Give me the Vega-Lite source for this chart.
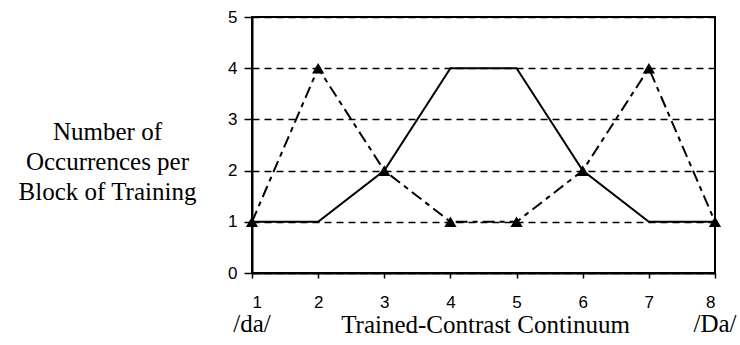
{
  "$schema": "https://vega.github.io/schema/vega-lite/v6.json",
  "width": 463,
  "height": 256,
  "autosize": {"type": "none"},
  "padding": {"left": 252, "top": 17, "right": 25, "bottom": 72},
  "background": "white",
  "config": {
    "view": {"stroke": "black", "strokeWidth": 2},
    "axis": {
      "domainColor": "black",
      "domainWidth": 2,
      "tickColor": "black",
      "tickWidth": 1.5,
      "labelFont": "Liberation Sans",
      "labelFontSize": 17,
      "labelColor": "black",
      "titleFont": "Liberation Serif",
      "titleFontSize": 25,
      "titleFontWeight": "normal",
      "titleColor": "black"
    }
  },
  "data": {
    "values": [
      {"step": 1, "count": 1, "series": "solid"},
      {"step": 2, "count": 1, "series": "solid"},
      {"step": 3, "count": 2, "series": "solid"},
      {"step": 4, "count": 4, "series": "solid"},
      {"step": 5, "count": 4, "series": "solid"},
      {"step": 6, "count": 2, "series": "solid"},
      {"step": 7, "count": 1, "series": "solid"},
      {"step": 8, "count": 1, "series": "solid"},
      {"step": 1, "count": 1, "series": "dashed"},
      {"step": 2, "count": 4, "series": "dashed"},
      {"step": 3, "count": 2, "series": "dashed"},
      {"step": 4, "count": 1, "series": "dashed"},
      {"step": 5, "count": 1, "series": "dashed"},
      {"step": 6, "count": 2, "series": "dashed"},
      {"step": 7, "count": 4, "series": "dashed"},
      {"step": 8, "count": 1, "series": "dashed"}
    ]
  },
  "layer": [
    {
      "transform": [{"filter": "datum.series === 'solid'"}],
      "mark": {"type": "line", "color": "black", "strokeWidth": 2},
      "encoding": {
        "x": {
          "field": "step",
          "type": "quantitative",
          "scale": {"domain": [1, 8], "nice": false, "zero": false},
          "axis": {
            "values": [1, 2, 3, 4, 5, 6, 7, 8],
            "format": "d",
            "grid": false,
            "tickSize": 5,
            "labelBaseline": "alphabetic",
            "labelPadding": 29,
            "labelFontSize": 17,
            "title": "Trained-Contrast Continuum",
            "titleBaseline": "alphabetic",
            "titleY": 59,
            "titleX": 233
          }
        },
        "y": {
          "field": "count",
          "type": "quantitative",
          "scale": {"domain": [0, 5], "nice": false},
          "axis": {
            "values": [0, 1, 2, 3, 4, 5],
            "format": "d",
            "grid": true,
            "gridColor": "black",
            "gridDash": [7, 5],
            "gridWidth": 1.5,
            "tickSize": 8,
            "labelPadding": 7,
            "labelFontSize": 17,
            "title": ["Number of", "Occurrences per", "Block of Training"],
            "titleAngle": 0,
            "titleAlign": "center",
            "titleBaseline": "alphabetic",
            "titleLineHeight": 30,
            "titleX": -145,
            "titleY": 122
          }
        }
      }
    },
    {
      "transform": [{"filter": "datum.series === 'dashed'"}],
      "mark": {"type": "line", "color": "black", "strokeWidth": 2, "strokeDash": [12, 5, 5, 5]},
      "encoding": {
        "x": {"field": "step", "type": "quantitative"},
        "y": {"field": "count", "type": "quantitative"}
      }
    },
    {
      "transform": [{"filter": "datum.series === 'dashed'"}],
      "mark": {"type": "point", "shape": "triangle-up", "filled": true, "color": "black", "size": 150, "opacity": 1},
      "encoding": {
        "x": {"field": "step", "type": "quantitative"},
        "y": {"field": "count", "type": "quantitative"}
      }
    },
    {
      "data": {"values": [{"step": 1, "label": "/da/"}, {"step": 8, "label": "/Da/"}]},
      "mark": {"type": "text", "font": "Liberation Serif", "fontSize": 25, "color": "black", "baseline": "alphabetic", "align": "center", "dy": 59},
      "encoding": {
        "x": {"field": "step", "type": "quantitative"},
        "y": {"datum": 0, "type": "quantitative"},
        "text": {"field": "label"}
      }
    }
  ]
}
